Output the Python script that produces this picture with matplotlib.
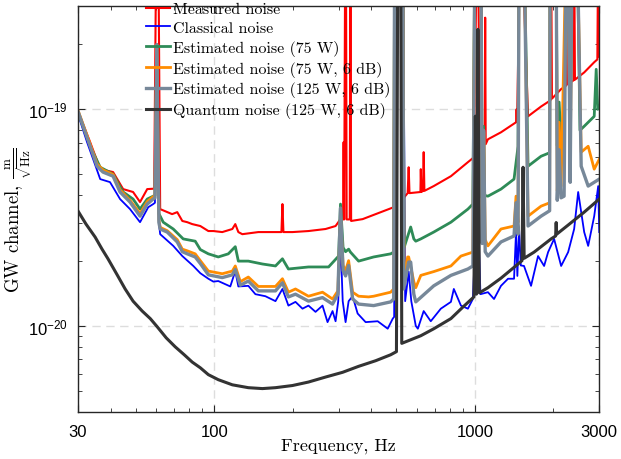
"""
GW channel noise budget: measured, classical, estimated and quantum noise ASD.
"""

import numpy as np
import matplotlib
matplotlib.use('Agg')
import matplotlib.pyplot as plt

TOP = 60.0  # off-scale value for lines that run past the top of the axes
UNIT = 1e-20  # all values below are in units of 1e-20 m/sqrt(Hz)

# (frequency in Hz, ASD in 1e-20 m/sqrt(Hz))
measured = [
    (30, 9.79), (33.4, 7.05), (36.5, 5.29), (40.9, 5.13), (44.7, 4.28), (48.8, 4.15),
    (51.9, 3.73), (55.3, 4.28), (58.8, 4.3), (59.9, TOP), (61.0, TOP), (62.0, 3.46),
    (68.9, 3.28), (72.1, 3.35), (75.4, 3.05), (78.8, 3.01), (82.3, 2.95), (88.4, 2.89),
    (94.9, 2.74), (99.2, 2.74), (107.3, 2.71), (117.3, 2.8), (120.4, 2.95), (123.7, 2.71),
    (128.1, 2.65), (147.6, 2.71), (171.7, 2.71), (181, 2.71), (182.6, 3.65), (184.2, 2.71),
    (199.5, 2.71), (229.8, 2.74), (267.3, 2.80), (292, 2.89), (305, 3.11), (312, 3.1),
    (313.5, 7.05), (315, 3.1), (318, TOP), (320, TOP), (322, 3.1), (331, 3.1), (333, TOP),
    (335, 3.05), (370.8, 3.11), (416.1, 3.28), (488, 3.53), (492, TOP), (529, TOP),
    (533, 3.9), (540, 3.97), (552, 4.1), (557, 5.4), (561, 4.1), (618, 4.15), (620, 5.29),
    (623, 4.15), (632, 4.2), (636, 6.34), (640, 4.2), (695, 4.42), (809, 4.91), (940, 5.70),
    (991, 6.0), (1018, TOP), (1027, TOP), (1045, 6.6), (1090, 6.9), (1095, 26.5),
    (1100, 6.9), (1122, 7.27), (1259, 7.83), (1438, 8.71), (1445, 10.0), (1452, 8.8),
    (1490, TOP), (1516, TOP), (1599, 9.28), (1794, 10.3), (1950, 11.0), (1960, TOP),
    (1975, 11.2), (2142, 12.4), (2230, 12.8), (2240, TOP), (2255, 13.0), (2390, 13.6),
    (2403, TOP), (2420, 13.7), (2626, 14.8), (2869, 16.5), (2950, 17.0), (2972, TOP),
    (2990, 17.5), (3000, 17.5),
]

classical = [
    (30, 9.48), (32.5, 7.05), (34.3, 5.88), (36.5, 4.76), (39.8, 4.61), (43.5, 3.85),
    (47.5, 3.46), (51.9, 3.01), (55.8, 3.53), (58.3, 3.65), (59.2, 3.7), (60.2, 18.0),
    (61.3, 3.0), (62.0, 2.65), (69.6, 2.34), (75.4, 2.10), (83.1, 1.89), (88.4, 1.75),
    (94.9, 1.65), (99.2, 1.60), (103.6, 1.61), (115.2, 1.52), (120.4, 1.79), (123.7, 1.52),
    (135.1, 1.53), (143.8, 1.40), (157.1, 1.37), (171.7, 1.30), (182.6, 1.48), (192.5, 1.24),
    (204.9, 1.29), (218, 1.20), (229.8, 1.24), (244.6, 1.16), (260.2, 1.24), (272, 1.04),
    (284.3, 1.17), (292, 1.05), (299, 1.3), (305, 2.5), (311, 1.3), (319, 1.04),
    (327.7, 1.3), (339.5, 1.37), (354.8, 1.14), (380.8, 1.04), (423.6, 1.05), (462.8, 0.97),
    (484, 1.08), (490, 1.1), (494, TOP), (530, TOP), (540, 1.3), (557, 1.78), (570, 1.3),
    (593, 1.0), (604, 0.97), (636, 1.17), (677, 1.05), (740, 1.20), (809, 1.29), (830, 1.48),
    (884, 1.24), (940, 1.20), (982, 1.33), (1005, 2.5), (1020, 1.5), (1036, 2.4), (1050, 1.4),
    (1122, 1.43), (1184, 1.33), (1259, 1.53), (1340, 1.65), (1413, 1.65), (1438, 2.71),
    (1455, 1.7), (1477, 2.8), (1500, 1.9), (1543, 1.89), (1642, 1.53), (1747, 2.10),
    (1843, 1.89), (1909, 2.19), (2013, 2.52), (2142, 1.89), (2279, 2.19), (2403, 2.80),
    (2490, 4.15), (2626, 2.71), (2720, 2.34), (2869, 3.21), (2972, 4.42), (3000, 2.71),
]

est_75 = [
    (30, 9.69), (33.4, 6.75), (36.5, 5.40), (40.9, 5.02), (44.7, 4.15), (48.8, 3.85),
    (51.9, 3.46), (55.3, 3.85), (58.3, 3.97), (59.2, 4.0), (60.2, 19.9), (61.3, 3.3),
    (63.7, 3.01), (69.6, 2.80), (76.0, 2.52), (84.5, 2.46), (88.4, 2.25), (94.9, 2.15),
    (103.6, 2.08), (113.2, 2.15), (120.4, 2.32), (123.7, 1.99), (135.1, 1.99), (153, 1.93),
    (171.7, 1.89), (182.6, 2.04), (192.5, 1.83), (229.8, 1.87), (274.5, 1.87), (300, 2.10),
    (305, 3.65), (312, 2.3), (319, 2.2), (327.7, 2.26), (333, 2.19), (357.9, 1.99),
    (408.8, 2.08), (475, 2.15), (488, 2.19), (492, TOP), (529, TOP), (535, 2.3), (567, 2.86),
    (583, 2.52), (593, 2.46), (620, 2.52), (695, 2.71), (809, 3.01), (940, 3.46), (982, 3.65),
    (1000, TOP), (1055, TOP), (1066, 3.9), (1078, 8.35), (1090, 4.0), (1122, 3.97),
    (1259, 4.28), (1413, 4.76), (1464, 6.75), (1477, TOP), (1543, TOP), (1599, 5.46),
    (1794, 6.07), (1935, 6.3), (1943, TOP), (2049, TOP), (2070, 6.8), (2104, 10.8),
    (2140, 7.2), (2199, 7.51), (2239, TOP), (2279, TOP), (2320, 7.7), (2361, TOP),
    (2468, TOP), (2530, 8.0), (2626, 8.35), (2869, 9.28), (2920, 15.3), (2960, 10.0),
    (3000, 10.3),
]

est_75_6db = [
    (30, 9.9), (31.4, 8.5), (33.4, 6.9), (35.5, 5.6), (37.4, 5.25), (40.9, 5.0), (43.5, 4.25),
    (47.5, 3.8), (51.9, 3.3), (55.3, 3.75), (58.3, 3.95), (59.2, 4.0), (60.2, 19.9),
    (61.3, 3.1), (62.0, 2.85), (66.0, 2.75), (72.1, 2.5), (75.4, 2.26), (78.8, 2.22),
    (84.5, 2.15), (88.4, 2.0), (94.9, 1.79), (107.3, 1.74), (117.3, 1.79), (120.4, 1.89),
    (125.9, 1.60), (135.1, 1.68), (147.6, 1.52), (171.7, 1.52), (182.6, 1.65), (192.5, 1.43),
    (204.9, 1.48), (229.8, 1.37), (260.2, 1.43), (284.3, 1.33), (298, 1.45), (305, 3.3),
    (312, 1.9), (319, 1.8), (327.7, 2.0), (339.5, 1.43), (357.9, 1.37), (391, 1.36),
    (408.8, 1.37), (475, 1.43), (488, 1.48), (492, TOP), (529, TOP), (535, 1.6), (552, 2.08),
    (557, 2.08), (583, 1.6), (593, 1.5), (620, 1.71), (695, 1.78), (809, 1.89), (884, 2.10),
    (982, 2.19), (1000, TOP), (1055, TOP), (1066, 2.5), (1083, 7.83), (1095, 2.5),
    (1122, 2.34), (1259, 2.80), (1413, 2.89), (1438, 3.97), (1464, 3.0), (1477, TOP),
    (1543, TOP), (1599, 3.21), (1794, 3.57), (1935, 3.7), (1943, TOP), (2049, TOP),
    (2070, 4.2), (2104, 8.71), (2142, 4.42), (2239, TOP), (2279, TOP), (2320, 5.0),
    (2361, TOP), (2468, TOP), (2557, 6.34), (2720, 6.75), (2869, 5.29), (3000, 5.88),
]

est_125_6db = [
    (30, 9.79), (31.4, 8.35), (33.4, 6.75), (35.5, 5.46), (37.4, 5.13), (40.9, 4.91),
    (43.5, 4.15), (47.5, 3.73), (51.9, 3.21), (55.3, 3.65), (58.3, 3.85), (59.2, 3.9),
    (60.2, 19.9), (61.3, 3.0), (62.0, 2.80), (66.0, 2.71), (72.1, 2.44), (75.4, 2.2),
    (78.8, 2.15), (84.5, 2.08), (88.4, 1.94), (94.9, 1.72), (107.3, 1.67), (117.3, 1.72),
    (120.4, 1.82), (125.9, 1.54), (135.1, 1.61), (147.6, 1.45), (171.7, 1.45), (182.6, 1.58),
    (192.5, 1.36), (204.9, 1.40), (229.8, 1.30), (260.2, 1.35), (284.3, 1.26), (298, 1.4),
    (305, 3.5), (312, 1.8), (319, 1.7), (327.7, 1.9), (339.5, 1.33), (357.9, 1.26),
    (408.8, 1.24), (475, 1.29), (488, 1.33), (492, TOP), (529, TOP), (533, 1.48), (557, 1.97),
    (567, 1.97), (583, 1.4), (593, 1.29), (695, 1.53), (809, 1.71), (940, 1.83), (982, 1.89),
    (1000, TOP), (1055, TOP), (1066, 2.4), (1080, 8.0), (1095, 2.2), (1122, 2.10),
    (1259, 2.44), (1413, 2.60), (1438, 3.7), (1464, 2.65), (1477, TOP), (1543, TOP),
    (1599, 2.89), (1794, 3.21), (1935, 3.4), (1943, TOP), (2049, TOP), (2070, 3.8),
    (2104, 6.5), (2140, 3.9), (2199, 3.97), (2239, TOP), (2279, TOP), (2320, 4.6),
    (2361, TOP), (2468, TOP), (2557, 5.46), (2720, 4.42), (3000, 4.76),
]

quantum = [
    (30, 3.39), (32.2, 2.95), (34.9, 2.57), (37.1, 2.26), (39.1, 2.04), (42.4, 1.72),
    (45.5, 1.48), (48.8, 1.30), (52.9, 1.17), (56.8, 1.08), (60.4, 0.99), (65.4, 0.88),
    (70.8, 0.80), (76.7, 0.735), (82.3, 0.68), (88.4, 0.64), (94.9, 0.595), (103.6, 0.564),
    (117.3, 0.534), (135.1, 0.518), (153, 0.513), (171.7, 0.518), (199.5, 0.53),
    (229.8, 0.55), (267.3, 0.58), (310.7, 0.61), (357.9, 0.65), (416.1, 0.69), (475, 0.735),
    (500, 0.76), (506, TOP), (519, TOP), (524, 0.83), (620, 0.90), (695, 0.969),
    (809, 1.08), (899, 1.22), (991, 1.36), (1004, 9.3), (1013, 1.4), (1027, 23.4),
    (1040, 1.42), (1122, 1.50), (1259, 1.66), (1464, 1.93), (1516, 2.0), (1530, 5.4),
    (1545, 2.05), (1687, 2.19), (1960, 2.52), (2040, 2.6), (2050, 3.0), (2060, 2.65),
    (2279, 2.92), (2626, 3.35), (3000, 3.85),
]

SERIES = [
    (measured,    'Measured noise',                '#ff0000', 1.5),
    (classical,   'Classical noise',               '#0000ff', 1.3),
    (est_75,      'Estimated noise (75 W)',        '#2e8b57', 2.0),
    (est_75_6db,  'Estimated noise (75 W, 6 dB)',  '#ff8c00', 2.0),
    (est_125_6db, 'Estimated noise (125 W, 6 dB)', '#778899', 2.4),
    (quantum,     'Quantum noise (125 W, 6 dB)',   '#333333', 2.2),
]

plt.rcParams.update({
    'font.family': 'cmr10',
    'mathtext.fontset': 'custom',
    'mathtext.rm': 'cmr10',
    'mathtext.it': 'cmmi10',
    'mathtext.bf': 'cmb10',
    'mathtext.sf': 'Liberation Sans',
    'axes.formatter.use_mathtext': True,
})

fig = plt.figure(figsize=(6.21, 4.6), dpi=100)
ax = fig.add_axes([0.1256, 0.1022, 0.8394, 0.8826])

for data, label, color, lw in SERIES:
    f, v = np.array(data).T
    ax.plot(f, v * UNIT, color=color, lw=lw, label=label)

ax.set_xscale('log')
ax.set_yscale('log')
ax.set_xlim(30, 3000)
ax.set_ylim(0.4e-20, 30e-20)

ax.set_xticks([30, 100, 1000, 3000])
ax.set_xticklabels(['30', '100', '1000', '3000'], family='Liberation Sans', fontsize=12)
ax.set_yticks([1e-20, 1e-19])
ax.set_yticklabels([r'$\mathsf{10^{-20}}$', r'$\mathsf{10^{-19}}$'], fontsize=12)
ax.xaxis.set_minor_locator(matplotlib.ticker.LogLocator(base=10, subs=np.arange(2, 10)))
ax.xaxis.set_minor_formatter(matplotlib.ticker.NullFormatter())
ax.yaxis.set_minor_locator(matplotlib.ticker.LogLocator(base=10, subs=np.arange(2, 10)))
ax.yaxis.set_minor_formatter(matplotlib.ticker.NullFormatter())

ax.tick_params(which='both', direction='in', top=True, right=True, color='#262626')
ax.tick_params(which='major', length=5, width=0.8)
ax.tick_params(which='minor', length=3, width=0.6)
ax.tick_params(axis='x', which='major', pad=9)
ax.tick_params(axis='y', which='major', pad=7)
for s in ax.spines.values():
    s.set_color('#262626')
    s.set_linewidth(1.0)

ax.grid(True, which='major', ls=(0, (6, 4)), color='#dddddd', lw=1.0)
ax.set_axisbelow(True)

ax.set_xlabel('Frequency, Hz', fontsize=13)
ax.xaxis.set_label_coords(0.5, -0.064)
ax.set_ylabel(r'GW channel, $\frac{\mathrm{m}}{\sqrt{\mathrm{Hz}}}$', fontsize=13.5)
ax.yaxis.set_label_coords(-0.083, 0.475)

ax.legend(loc='upper left', bbox_to_anchor=(0.13, 1.01), frameon=False, fontsize=11.5,
          handlelength=1.5, handletextpad=0.2, labelspacing=0.3, borderpad=0,
          borderaxespad=0)

fig.savefig('out.png', dpi=100)
print('Saved out.png')
